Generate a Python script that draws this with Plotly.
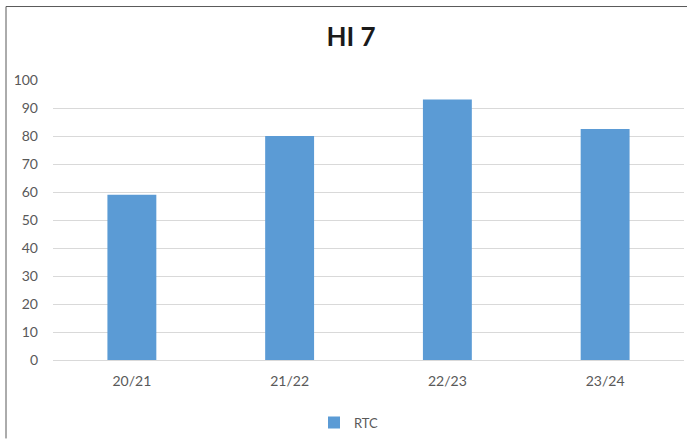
import plotly.graph_objects as go

categories = ["20/21", "21/22", "22/23", "23/24"]
rtc_values = [59, 80, 93, 82.5]
series_name = "RTC"
title_text = "HI 7"

W, H = 687, 441
L, R, T, B = 53, 3, 80, 79
pw = W - L - R
ph = H - T - B

fig = go.Figure()
fig.add_trace(go.Bar(
    x=categories, y=rtc_values, name=series_name,
    marker=dict(color="#5b9bd5", line=dict(width=0)),
    showlegend=True,
))

def px_to_paper_x(px):
    return (px - L) / pw

def px_to_paper_y(py):
    return 1 - (py - T) / ph

fig.update_layout(
    width=W, height=H,
    margin=dict(l=L, r=R, t=T, b=B),
    paper_bgcolor="white", plot_bgcolor="white",
    font=dict(family="Lato, Noto Sans, sans-serif", color="#595959", size=13),
    title=dict(text="<b>" + title_text + "</b>", x=351 / W, xanchor="center",
               y=1 - 37 / H, yanchor="middle",
               font=dict(size=26, color="#1a1a1a", family="Lato, Noto Sans, sans-serif")),
    bargap=0.69,
    xaxis=dict(showgrid=False, showline=True, linecolor="#d9d9d9", linewidth=1,
               ticks="", ticklabelstandoff=8, tickfont=dict(size=14, color="#595959")),
    yaxis=dict(range=[0, 100], dtick=10, showgrid=True, gridcolor="#d9d9d9", gridwidth=1,
               zeroline=False, showline=False, ticks="", ticklabelstandoff=14,
               tickfont=dict(size=14, color="#595959")),
    legend=dict(orientation="h", x=px_to_paper_x(349), xanchor="center",
                y=px_to_paper_y(425), yanchor="middle",
                font=dict(size=13, color="#595959"), itemwidth=30),
    shapes=[
        dict(type="line", xref="paper", yref="paper",
             x0=px_to_paper_x(6), x1=px_to_paper_x(6),
             y0=px_to_paper_y(441), y1=px_to_paper_y(6),
             line=dict(color="#595959", width=1)),
        dict(type="line", xref="paper", yref="paper",
             x0=px_to_paper_x(6), x1=px_to_paper_x(687),
             y0=px_to_paper_y(6), y1=px_to_paper_y(6),
             line=dict(color="#595959", width=1)),
    ],
)

fig.write_html("out.html", config={"displayModeBar": False},
               post_script="document.body.style.margin='0';document.body.style.overflow='hidden';")
